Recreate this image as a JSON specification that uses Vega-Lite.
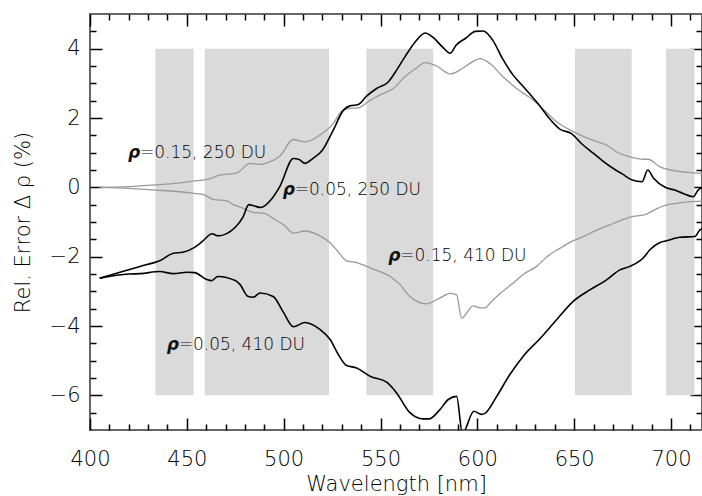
{
  "$schema": "https://vega.github.io/schema/vega-lite/v6.json",
  "width": 612,
  "height": 416,
  "autosize": "none",
  "padding": {"left": 90, "top": 14, "right": 0, "bottom": 66},
  "background": "white",
  "config": {"view": {"stroke": "#666666", "strokeWidth": 2}},
  "datasets": {
    "bands": [
      {"start": 433.8, "end": 453.5},
      {"start": 459.2, "end": 523.4},
      {"start": 542.7, "end": 577.2},
      {"start": 650.4, "end": 679.7},
      {"start": 697.4, "end": 712.1}
    ],
    "curves": [
      {"s": "A", "wl": 405, "v": -2.62}, {"s": "A", "wl": 420, "v": -2.38}, {"s": "A", "wl": 427, "v": -2.26}, {"s": "A", "wl": 436, "v": -2.12}, {"s": "A", "wl": 443, "v": -1.9}, {"s": "A", "wl": 448, "v": -1.87}, {"s": "A", "wl": 454, "v": -1.73}, {"s": "A", "wl": 458, "v": -1.56}, {"s": "A", "wl": 463, "v": -1.34}, {"s": "A", "wl": 466, "v": -1.4}, {"s": "A", "wl": 475, "v": -1.15}, {"s": "A", "wl": 479, "v": -0.86}, {"s": "A", "wl": 482, "v": -0.5}, {"s": "A", "wl": 485, "v": -0.54}, {"s": "A", "wl": 488, "v": -0.58}, {"s": "A", "wl": 494, "v": -0.32}, {"s": "A", "wl": 498, "v": 0.02}, {"s": "A", "wl": 505, "v": 0.83}, {"s": "A", "wl": 508, "v": 0.8}, {"s": "A", "wl": 511, "v": 0.69}, {"s": "A", "wl": 515, "v": 0.83}, {"s": "A", "wl": 520, "v": 1.07}, {"s": "A", "wl": 525.6, "v": 1.65}, {"s": "A", "wl": 530.8, "v": 2.22}, {"s": "A", "wl": 534.2, "v": 2.35}, {"s": "A", "wl": 538.5, "v": 2.39}, {"s": "A", "wl": 542.8, "v": 2.63}, {"s": "A", "wl": 548, "v": 2.85}, {"s": "A", "wl": 554, "v": 3.04}, {"s": "A", "wl": 558.3, "v": 3.38}, {"s": "A", "wl": 563, "v": 3.8}, {"s": "A", "wl": 568, "v": 4.2}, {"s": "A", "wl": 573, "v": 4.45}, {"s": "A", "wl": 577, "v": 4.33}, {"s": "A", "wl": 582, "v": 4.05}, {"s": "A", "wl": 586, "v": 3.87}, {"s": "A", "wl": 589, "v": 4.1}, {"s": "A", "wl": 594, "v": 4.3}, {"s": "A", "wl": 599, "v": 4.5}, {"s": "A", "wl": 603, "v": 4.51}, {"s": "A", "wl": 608, "v": 4.24}, {"s": "A", "wl": 613, "v": 3.71}, {"s": "A", "wl": 618.6, "v": 3.23}, {"s": "A", "wl": 623, "v": 2.95}, {"s": "A", "wl": 627, "v": 2.7}, {"s": "A", "wl": 632, "v": 2.37}, {"s": "A", "wl": 637, "v": 2.0}, {"s": "A", "wl": 642.6, "v": 1.68}, {"s": "A", "wl": 648.6, "v": 1.55}, {"s": "A", "wl": 654, "v": 1.25}, {"s": "A", "wl": 660, "v": 0.98}, {"s": "A", "wl": 665, "v": 0.75}, {"s": "A", "wl": 670, "v": 0.55}, {"s": "A", "wl": 675, "v": 0.38}, {"s": "A", "wl": 680, "v": 0.21}, {"s": "A", "wl": 685, "v": 0.16}, {"s": "A", "wl": 688, "v": 0.5}, {"s": "A", "wl": 691, "v": 0.26}, {"s": "A", "wl": 697, "v": 0.0}, {"s": "A", "wl": 702, "v": -0.08}, {"s": "A", "wl": 706, "v": -0.17}, {"s": "A", "wl": 711.5, "v": -0.27}, {"s": "A", "wl": 714, "v": -0.08}, {"s": "A", "wl": 716, "v": 0.0},
      {"s": "B", "wl": 405, "v": 0}, {"s": "B", "wl": 420, "v": 0.02}, {"s": "B", "wl": 434, "v": 0.07}, {"s": "B", "wl": 445, "v": 0.12}, {"s": "B", "wl": 453, "v": 0.18}, {"s": "B", "wl": 460, "v": 0.22}, {"s": "B", "wl": 467, "v": 0.35}, {"s": "B", "wl": 476, "v": 0.42}, {"s": "B", "wl": 482.6, "v": 0.69}, {"s": "B", "wl": 487.8, "v": 0.66}, {"s": "B", "wl": 493, "v": 0.74}, {"s": "B", "wl": 498, "v": 0.9}, {"s": "B", "wl": 505, "v": 1.38}, {"s": "B", "wl": 511, "v": 1.31}, {"s": "B", "wl": 518.7, "v": 1.5}, {"s": "B", "wl": 525.6, "v": 1.84}, {"s": "B", "wl": 530, "v": 2.2}, {"s": "B", "wl": 534.2, "v": 2.28}, {"s": "B", "wl": 538.5, "v": 2.29}, {"s": "B", "wl": 544.6, "v": 2.51}, {"s": "B", "wl": 551, "v": 2.7}, {"s": "B", "wl": 556.6, "v": 2.85}, {"s": "B", "wl": 562, "v": 3.16}, {"s": "B", "wl": 568, "v": 3.42}, {"s": "B", "wl": 573, "v": 3.6}, {"s": "B", "wl": 579, "v": 3.5}, {"s": "B", "wl": 586, "v": 3.27}, {"s": "B", "wl": 592, "v": 3.42}, {"s": "B", "wl": 596, "v": 3.57}, {"s": "B", "wl": 601.4, "v": 3.71}, {"s": "B", "wl": 606.5, "v": 3.57}, {"s": "B", "wl": 613.4, "v": 3.18}, {"s": "B", "wl": 620.3, "v": 2.85}, {"s": "B", "wl": 628.9, "v": 2.51}, {"s": "B", "wl": 635, "v": 2.2}, {"s": "B", "wl": 641, "v": 1.89}, {"s": "B", "wl": 648, "v": 1.65}, {"s": "B", "wl": 654.7, "v": 1.47}, {"s": "B", "wl": 661, "v": 1.33}, {"s": "B", "wl": 666.7, "v": 1.22}, {"s": "B", "wl": 672, "v": 1.02}, {"s": "B", "wl": 678.8, "v": 0.88}, {"s": "B", "wl": 685.6, "v": 0.81}, {"s": "B", "wl": 688.2, "v": 0.81}, {"s": "B", "wl": 694.3, "v": 0.59}, {"s": "B", "wl": 702.9, "v": 0.47}, {"s": "B", "wl": 709, "v": 0.43}, {"s": "B", "wl": 716, "v": 0.4},
      {"s": "C", "wl": 405, "v": 0}, {"s": "C", "wl": 420, "v": -0.03}, {"s": "C", "wl": 434, "v": -0.08}, {"s": "C", "wl": 445, "v": -0.12}, {"s": "C", "wl": 453, "v": -0.17}, {"s": "C", "wl": 459, "v": -0.22}, {"s": "C", "wl": 463.7, "v": -0.35}, {"s": "C", "wl": 470.6, "v": -0.39}, {"s": "C", "wl": 474, "v": -0.5}, {"s": "C", "wl": 479, "v": -0.6}, {"s": "C", "wl": 484.3, "v": -0.72}, {"s": "C", "wl": 490, "v": -0.75}, {"s": "C", "wl": 496, "v": -0.95}, {"s": "C", "wl": 500, "v": -1.08}, {"s": "C", "wl": 505, "v": -1.32}, {"s": "C", "wl": 511, "v": -1.26}, {"s": "C", "wl": 518.7, "v": -1.4}, {"s": "C", "wl": 524, "v": -1.6}, {"s": "C", "wl": 528, "v": -1.85}, {"s": "C", "wl": 532.5, "v": -2.12}, {"s": "C", "wl": 537.7, "v": -2.17}, {"s": "C", "wl": 546.3, "v": -2.36}, {"s": "C", "wl": 555, "v": -2.57}, {"s": "C", "wl": 560, "v": -2.8}, {"s": "C", "wl": 565.2, "v": -3.15}, {"s": "C", "wl": 573.7, "v": -3.36}, {"s": "C", "wl": 580.7, "v": -3.19}, {"s": "C", "wl": 585.9, "v": -3.06}, {"s": "C", "wl": 589.3, "v": -3.1}, {"s": "C", "wl": 591.9, "v": -3.77}, {"s": "C", "wl": 597.9, "v": -3.42}, {"s": "C", "wl": 601.4, "v": -3.48}, {"s": "C", "wl": 604, "v": -3.48}, {"s": "C", "wl": 606.5, "v": -3.34}, {"s": "C", "wl": 612, "v": -3.05}, {"s": "C", "wl": 618.5, "v": -2.76}, {"s": "C", "wl": 624, "v": -2.5}, {"s": "C", "wl": 630.6, "v": -2.28}, {"s": "C", "wl": 636, "v": -2.0}, {"s": "C", "wl": 642.6, "v": -1.76}, {"s": "C", "wl": 648, "v": -1.58}, {"s": "C", "wl": 654.7, "v": -1.42}, {"s": "C", "wl": 661, "v": -1.25}, {"s": "C", "wl": 668.5, "v": -1.08}, {"s": "C", "wl": 673, "v": -0.98}, {"s": "C", "wl": 678.8, "v": -0.86}, {"s": "C", "wl": 687.4, "v": -0.77}, {"s": "C", "wl": 692.5, "v": -0.62}, {"s": "C", "wl": 697, "v": -0.52}, {"s": "C", "wl": 702.9, "v": -0.46}, {"s": "C", "wl": 709, "v": -0.42}, {"s": "C", "wl": 716, "v": -0.4},
      {"s": "D", "wl": 405, "v": -2.62}, {"s": "D", "wl": 420, "v": -2.5}, {"s": "D", "wl": 426, "v": -2.49}, {"s": "D", "wl": 436, "v": -2.43}, {"s": "D", "wl": 443, "v": -2.49}, {"s": "D", "wl": 450, "v": -2.45}, {"s": "D", "wl": 454, "v": -2.46}, {"s": "D", "wl": 460, "v": -2.65}, {"s": "D", "wl": 462.8, "v": -2.69}, {"s": "D", "wl": 466, "v": -2.57}, {"s": "D", "wl": 475, "v": -2.69}, {"s": "D", "wl": 477.4, "v": -2.8}, {"s": "D", "wl": 481.7, "v": -3.15}, {"s": "D", "wl": 484.3, "v": -3.17}, {"s": "D", "wl": 487.8, "v": -3.05}, {"s": "D", "wl": 494.6, "v": -3.15}, {"s": "D", "wl": 499.8, "v": -3.6}, {"s": "D", "wl": 505, "v": -4.02}, {"s": "D", "wl": 511, "v": -3.9}, {"s": "D", "wl": 518.7, "v": -4.1}, {"s": "D", "wl": 524, "v": -4.39}, {"s": "D", "wl": 528, "v": -4.8}, {"s": "D", "wl": 532.5, "v": -5.14}, {"s": "D", "wl": 537.7, "v": -5.21}, {"s": "D", "wl": 544.6, "v": -5.45}, {"s": "D", "wl": 553.2, "v": -5.62}, {"s": "D", "wl": 558.3, "v": -5.93}, {"s": "D", "wl": 565.2, "v": -6.5}, {"s": "D", "wl": 572, "v": -6.68}, {"s": "D", "wl": 575, "v": -6.68}, {"s": "D", "wl": 580.7, "v": -6.41}, {"s": "D", "wl": 585, "v": -6.12}, {"s": "D", "wl": 589.3, "v": -6.03}, {"s": "D", "wl": 592.3, "v": -7.1}, {"s": "D", "wl": 598.2, "v": -6.46}, {"s": "D", "wl": 602.2, "v": -6.55}, {"s": "D", "wl": 603.9, "v": -6.52}, {"s": "D", "wl": 610, "v": -6.03}, {"s": "D", "wl": 616.8, "v": -5.4}, {"s": "D", "wl": 623.7, "v": -4.87}, {"s": "D", "wl": 632.3, "v": -4.37}, {"s": "D", "wl": 640.9, "v": -3.82}, {"s": "D", "wl": 649.5, "v": -3.29}, {"s": "D", "wl": 658.1, "v": -2.96}, {"s": "D", "wl": 666.7, "v": -2.67}, {"s": "D", "wl": 673.6, "v": -2.38}, {"s": "D", "wl": 678.8, "v": -2.28}, {"s": "D", "wl": 685.6, "v": -2.04}, {"s": "D", "wl": 689.1, "v": -1.8}, {"s": "D", "wl": 694.3, "v": -1.59}, {"s": "D", "wl": 697.7, "v": -1.54}, {"s": "D", "wl": 704.6, "v": -1.44}, {"s": "D", "wl": 712.3, "v": -1.42}, {"s": "D", "wl": 714.9, "v": -1.23}, {"s": "D", "wl": 716, "v": -1.2}
    ],
    "labels": [
      {"wl": 419.6, "v": 0.84, "sym": "ρ", "rest": "=0.15,  250  DU"},
      {"wl": 499.5, "v": -0.22, "sym": "ρ", "rest": "=0.05,  250  DU"},
      {"wl": 554.0, "v": -2.12, "sym": "ρ", "rest": "=0.15,  410  DU"},
      {"wl": 439.6, "v": -4.68, "sym": "ρ", "rest": "=0.05,  410  DU"}
    ]
  },
  "resolve": {"axis": {"x": "independent", "y": "independent"}},
  "layer": [
    {
      "data": {"name": "bands"},
      "mark": {"type": "rect", "color": "#dadada"},
      "encoding": {
        "x": {"field": "start", "type": "quantitative",
          "scale": {"domain": [400, 716], "nice": false, "zero": false},
          "axis": {"orient": "bottom", "values": [400, 450, 500, 550, 600, 650, 700],
            "offset": -12, "tickSize": 12, "format": "d", "domain": false,
            "labelPadding": 18, "labelFont": "DejaVu Sans", "labelFontSize": 21, "labelColor": "#000", "labelFontWeight": 200,
            "labelFlush": false, "labelOverlap": false,
            "tickColor": "#000", "tickWidth": 1.5, "grid": false,
            "title": "Wavelength [nm]", "titleFont": "DejaVu Sans", "titleFontSize": 21, "titleFontWeight": 200, "titleColor": "#000", "titlePadding": 4}},
        "x2": {"field": "end"},
        "y": {"datum": -6, "type": "quantitative",
          "scale": {"domain": [-7, 5], "nice": false, "zero": false},
          "axis": {"orient": "left", "values": [-6, -4, -2, 0, 2, 4],
            "offset": -12, "tickSize": 12, "format": "d", "domain": false,
            "labelPadding": 10, "labelFont": "DejaVu Sans", "labelFontSize": 21, "labelColor": "#000", "labelFontWeight": 200,
            "labelFlush": false, "labelOverlap": false,
            "tickColor": "#000", "tickWidth": 1.5, "grid": false,
            "title": "Rel. Error Δ ρ (%)", "titleFont": "DejaVu Sans", "titleFontSize": 21, "titleFontWeight": 200, "titleColor": "#000", "titlePadding": 16}},
        "y2": {"datum": 4}
      }
    },
    {
      "data": {"name": "curves"},
      "transform": [{"filter": "datum.s === 'B' || datum.s === 'C'"}],
      "mark": {"type": "line", "color": "#999999", "strokeWidth": 1.3, "clip": true, "interpolate": "monotone"},
      "encoding": {
        "x": {"field": "wl", "type": "quantitative",
          "axis": {"orient": "top", "values": [400, 450, 500, 550, 600, 650, 700],
            "offset": -12, "tickSize": 12, "domain": false, "labels": false, "title": null, "tickColor": "#000", "tickWidth": 1.5, "grid": false}},
        "y": {"field": "v", "type": "quantitative",
          "axis": {"orient": "right", "values": [-6, -4, -2, 0, 2, 4],
            "offset": -12, "tickSize": 12, "domain": false, "labels": false, "title": null, "tickColor": "#000", "tickWidth": 1.5, "grid": false}},
        "detail": {"field": "s"}
      }
    },
    {
      "data": {"name": "curves"},
      "transform": [{"filter": "datum.s === 'A' || datum.s === 'D'"}],
      "mark": {"type": "line", "color": "#000000", "strokeWidth": 1.6, "clip": true, "interpolate": "monotone"},
      "encoding": {
        "x": {"field": "wl", "type": "quantitative",
          "axis": {"orient": "bottom", "values": [410,420,430,440,460,470,480,490,510,520,530,540,560,570,580,590,610,620,630,640,660,670,680,690,710],
            "offset": -6, "tickSize": 6, "labels": false, "title": null, "domain": false, "tickColor": "#000", "tickWidth": 1.5, "grid": false}},
        "y": {"field": "v", "type": "quantitative",
          "axis": {"orient": "left", "values": [-6.5,-5.5,-5,-4.5,-3.5,-3,-2.5,-1.5,-1,-0.5,0.5,1,1.5,2.5,3,3.5,4.5],
            "offset": -6, "tickSize": 6, "labels": false, "title": null, "domain": false, "tickColor": "#000", "tickWidth": 1.5, "grid": false}},
        "detail": {"field": "s"}
      }
    },
    {
      "data": {"name": "labels"},
      "mark": {"type": "text", "align": "left", "baseline": "alphabetic", "font": "DejaVu Sans", "fontSize": 17, "fontStyle": "italic", "fontWeight": "bold", "color": "#111"},
      "encoding": {
        "x": {"field": "wl", "type": "quantitative",
          "axis": {"orient": "top", "values": [410,420,430,440,460,470,480,490,510,520,530,540,560,570,580,590,610,620,630,640,660,670,680,690,710],
            "offset": -6, "tickSize": 6, "labels": false, "title": null, "domain": false, "tickColor": "#000", "tickWidth": 1.5, "grid": false}},
        "y": {"field": "v", "type": "quantitative",
          "axis": {"orient": "right", "values": [-6.5,-5.5,-5,-4.5,-3.5,-3,-2.5,-1.5,-1,-0.5,0.5,1,1.5,2.5,3,3.5,4.5],
            "offset": -6, "tickSize": 6, "labels": false, "title": null, "domain": false, "tickColor": "#000", "tickWidth": 1.5, "grid": false}},
        "text": {"field": "sym"}
      }
    },
    {
      "data": {"name": "labels"},
      "mark": {"type": "text", "align": "left", "baseline": "alphabetic", "font": "DejaVu Sans", "fontSize": 17, "fontWeight": 300, "dx": 12, "color": "#000"},
      "encoding": {
        "x": {"field": "wl", "type": "quantitative", "axis": null},
        "y": {"field": "v", "type": "quantitative", "axis": null},
        "text": {"field": "rest"}
      }
    }
  ]
}
